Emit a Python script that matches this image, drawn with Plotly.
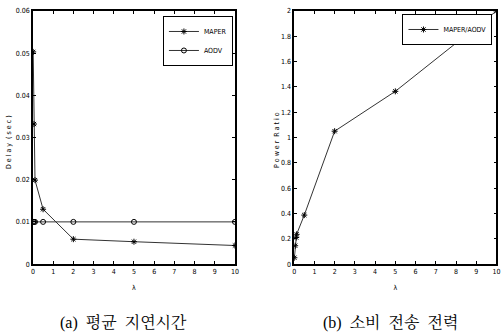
import plotly.graph_objects as go

lam = [0.01, 0.05, 0.1, 0.5, 2, 5, 10]
maper_delay = [0.0503, 0.0332, 0.0199, 0.0130, 0.0059, 0.0053, 0.0044]
aodv_delay = [0.0100, 0.0100, 0.0100, 0.0100, 0.0100, 0.0100, 0.0100]
power_lam = [0.01, 0.05, 0.1, 0.12, 0.5, 2, 5, 10]
power_ratio = [0.05, 0.145, 0.21, 0.235, 0.387, 1.05, 1.365, 2.0]

FONT = "DejaVu Sans Condensed, Liberation Sans Narrow, Liberation Sans, sans-serif"
LC = "#333333"
NB = "\u00a0"

fig = go.Figure()
fig.add_trace(go.Scatter(x=lam, y=maper_delay, name="MAPER", mode="lines+markers",
                         line=dict(color=LC, width=1),
                         marker=dict(symbol="asterisk-open", size=5, color="black", line=dict(width=1, color="black")),
                         xaxis="x", yaxis="y", legend="legend"))
fig.add_trace(go.Scatter(x=lam, y=aodv_delay, name="AODV", mode="lines+markers",
                         line=dict(color=LC, width=1),
                         marker=dict(symbol="circle-open", size=5, color="black", line=dict(width=1, color="black")),
                         xaxis="x", yaxis="y", legend="legend"))
fig.add_trace(go.Scatter(x=power_lam, y=power_ratio, name="MAPER/AODV", mode="lines+markers",
                         line=dict(color=LC, width=1),
                         marker=dict(symbol="asterisk-open", size=5, color="black", line=dict(width=1, color="black")),
                         xaxis="x2", yaxis="y2", legend="legend2"))

axis_common = dict(showgrid=False, zeroline=False, showline=True, linecolor="black", linewidth=1.5,
                   mirror="ticks", ticks="inside", ticklen=3, tickcolor="black", automargin=False,
                   tickfont=dict(family=FONT, size=7, color="black"))

fig.update_layout(
    width=502, height=333, margin=dict(l=0, r=0, t=0, b=0, autoexpand=False),
    paper_bgcolor="white", plot_bgcolor="white",
    font=dict(family=FONT, size=7, color="black"),
    xaxis=dict(domain=[0.0657, 0.468], range=[0, 10], dtick=1, anchor="y",
               title=dict(text="λ", font=dict(family=FONT, size=7), standoff=10), **axis_common),
    yaxis=dict(domain=[0.207, 0.967], range=[0, 0.06], dtick=0.01, anchor="x",
               tickformat="~g", **axis_common),
    xaxis2=dict(domain=[0.586, 0.989], range=[0, 10], dtick=1, anchor="y2",
                title=dict(text="λ", font=dict(family=FONT, size=7), standoff=10), **axis_common),
    yaxis2=dict(domain=[0.207, 0.967], range=[0, 2], dtick=0.2, anchor="x2",
                tickformat="~g", **axis_common),
    legend=dict(x=0.464, y=0.952, xanchor="right", yanchor="top", bgcolor="white",
                bordercolor="black", borderwidth=1, font=dict(family=FONT, size=7),
                itemwidth=30, tracegroupgap=0),
    legend2=dict(x=0.981, y=0.958, xanchor="right", yanchor="top", bgcolor="white",
                 bordercolor="black", borderwidth=1, font=dict(family=FONT, size=7),
                 itemwidth=30),
    showlegend=True,
)

# rotated y-axis titles
fig.add_annotation(text="D e l a y  ( s e c )", x=9 / 502, y=1 - 142 / 333, xref="paper", yref="paper",
                   xanchor="center", yanchor="middle", textangle=-90, showarrow=False,
                   font=dict(family=FONT, size=7, color="black"))
fig.add_annotation(text="P o w e r  R a t i o", x=277 / 502, y=1 - 140 / 333, xref="paper", yref="paper",
                   xanchor="center", yanchor="middle", textangle=-90, showarrow=False,
                   font=dict(family=FONT, size=7, color="black"))

cap_font = dict(family="Liberation Serif, Noto Serif CJK KR, Noto Sans CJK KR, serif", size=16, color="black")
fig.add_annotation(text="(a)" + NB * 2 + "평균" + NB * 2 + "지연시간", x=0.247, y=0.033,
                   xref="paper", yref="paper", xanchor="center", yanchor="middle",
                   showarrow=False, font=cap_font)
fig.add_annotation(text="(b)" + NB * 2 + "소비" + NB * 2 + "전송" + NB * 2 + "전력", x=0.777, y=0.033,
                   xref="paper", yref="paper", xanchor="center", yanchor="middle",
                   showarrow=False, font=cap_font)

fig.write_html("out.html", config={"displayModeBar": False},
               post_script="document.body.style.margin='0px';")
